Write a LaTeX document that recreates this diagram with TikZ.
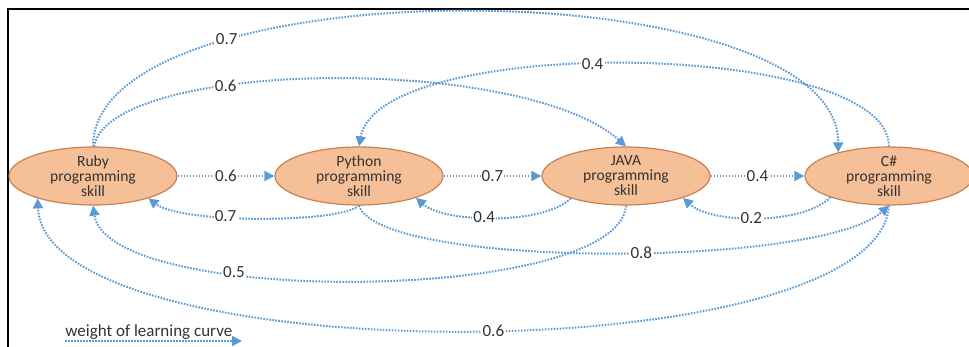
\documentclass[tikz,border=0pt]{standalone}
\usepackage{fontspec}
\setmainfont{Carlito}
\usetikzlibrary{shapes.geometric,arrows.meta}
\definecolor{curveblue}{HTML}{5B9BD5}
\definecolor{skillfill}{HTML}{F5BF98}
\definecolor{skillline}{HTML}{CC8150}
\definecolor{labelgray}{HTML}{333333}

\begin{document}
\begin{tikzpicture}[x=0.5pt,y=-0.5pt,
  skill/.style={ellipse,draw=skillline,fill=skillfill,line width=0.6pt,
    minimum width=84pt,minimum height=29pt,inner xsep=0pt,inner ysep=-1.4pt,
    align=center,text=labelgray,font=\fontsize{7.8}{7.5}\selectfont},
  learncurve/.style={curveblue,line width=1pt,dash pattern=on 0.8pt off 0.7pt,
    -{Triangle[length=5pt,width=5pt]}},
  wlabel/.style={fill=white,inner sep=0.6pt,text=labelgray,
    font=\fontsize{8.5}{9}\selectfont}]
\useasboundingbox (0,0) rectangle (969,347);
\clip (0,0) rectangle (969,347);
\draw[line width=1.3pt] (8,347) -- (8,9) -- (969,9);

% skills
\node[skill] (ruby) at (93,176) {Ruby\\programming\\skill};
\node[skill] (python) at (359,176) {Python\\programming\\skill};
\node[skill] (java) at (626,176) {JAVA\\programming\\skill};
\node[skill] (csharp) at (889,176) {C\#\\programming\\skill};

% next skill to the right
\draw[learncurve] (ruby) -- node[wlabel] {0.6} (python);
\draw[learncurve] (python) -- node[wlabel] {0.7} (java);
\draw[learncurve] (java) -- node[wlabel] {0.4} (csharp);

% back one step
\draw[learncurve] (python.south) .. controls +(-20,18) and +(33,25) .. node[wlabel,pos=0.62] {0.7} (ruby.-22);
\draw[learncurve] (java.-158) .. controls +(-27,27) and +(28,25) .. node[wlabel,pos=0.55] {0.4} (python.-21);
\draw[learncurve] (csharp.-160) .. controls +(-28,28) and +(28,26) .. node[wlabel,pos=0.53] {0.2} (java.-21);

% over the top
\draw[learncurve] (ruby.north) .. controls +(0,-182) and +(0,-185) .. node[wlabel,pos=0.27] {0.7} (csharp.155);
\draw[learncurve] (ruby.88) .. controls +(15,-87) and +(-104,-93) .. node[wlabel,pos=0.35] {0.6} (java.north);
\draw[learncurve] (csharp.north) .. controls +(0,-107) and +(20,-113) .. node[wlabel,pos=0.55] {0.4} (python.north);

% underneath
\draw[learncurve] (python.south) .. controls +(20,63) and +(-71,63) .. node[wlabel,pos=0.55] {0.8} (csharp.south);
\draw[learncurve] (java.south) .. controls +(-7,98) and +(15,102) .. node[wlabel,pos=0.67] {0.5} (ruby.south);
\draw[learncurve] (csharp.south) .. controls +(-11,168) and +(7,175) .. node[wlabel,pos=0.475] {0.6} (ruby.-158);

% legend
\coordinate (legstart) at (65,341);
\coordinate (legend) at (242,341);
\draw[learncurve] (legstart) -- (legend);
\node[anchor=base west,inner sep=0pt,text=labelgray,font=\fontsize{8.5}{9}\selectfont] (legtext) at (65,336) {weight of learning curve};
\end{tikzpicture}
\end{document}
